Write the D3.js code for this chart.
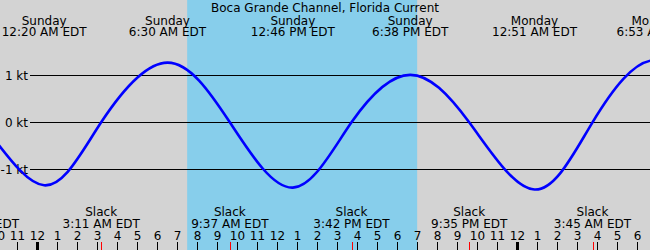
<!DOCTYPE html>
<html>
<head>
<meta charset="utf-8">
<script src="https://cdn.jsdelivr.net/npm/d3@7"></script>
<style>
  body { margin: 0; background: #fff; }
  svg { display: block; font-family: "DejaVu Sans", sans-serif; font-size: 12px; }
</style>
</head>
<body>
<svg id="chart" width="650" height="250"></svg>
<script>
// station
var title = "Boca Grande Channel, Florida Current";

// tide current events (day offset from Sunday, clock time, speed in kt)
var eventDays   = [-1, -1, 0, 0, 0, 0, 0, 0, 0, 0, 1, 1, 1, 1];
var eventTimes  = ["6:15 PM", "9:10 PM", "12:20 AM", "3:11 AM", "6:30 AM", "9:37 AM", "12:46 PM",
                   "3:42 PM", "6:38 PM", "9:35 PM", "12:51 AM", "3:45 AM", "6:53 AM", "9:55 AM"];
var eventSpeeds = [1.1, 0, -1.34, 0, 1.27, 0, -1.39, 0, 1.01, 0, -1.43, 0, 1.32, 0];
var dayNames = ["Saturday", "Sunday", "Monday"];

// sunrise / sunset on Sunday
var sunTimes = ["7:29 AM", "6:59 PM"];

// y gridlines
var speedTicks = [1, 0, -1];

var width = 650,
    height = 250;

function clockToHours(s) {
  var parts = s.split(" "),
      hm = parts[0].split(":"),
      h = +hm[0] % 12 + (+hm[1]) / 60;
  if (parts[1] == "PM") h += 12;
  return h;
}

var events = eventTimes.map(function(t, i) {
  return {
    hour: eventDays[i] * 24 + clockToHours(t),
    time: t,
    day: dayNames[eventDays[i] + 1],
    speed: eventSpeeds[i]
  };
});

var x = d3.scaleLinear()
  .domain([0, 24])
  .range([37.5, 517.5]);

var y = d3.scaleLinear()
  .domain([-1, 1])
  .range([169.3, 75.3]);

// only label events whose text can reach the picture
function visible(d) {
  return x(d.hour) > -45 && x(d.hour) < width + 45;
}

var svg = d3.select("#chart");

// night background
svg.append("rect")
  .attr("width", width)
  .attr("height", height)
  .style("fill", "#d3d3d3");

// daylight
svg.append("rect")
  .attr("x", x(clockToHours(sunTimes[0])))
  .attr("width", x(clockToHours(sunTimes[1])) - x(clockToHours(sunTimes[0])))
  .attr("y", 0)
  .attr("height", height)
  .style("fill", "#87ceeb");

// grid lines
svg.selectAll("line.grid")
  .data(speedTicks)
  .enter().append("line")
    .attr("class", "grid")
    .attr("x1", 30)
    .attr("x2", width)
    .attr("y1", function(d) { return Math.round(y(d)) + 0.5; })
    .attr("y2", function(d) { return Math.round(y(d)) + 0.5; })
    .style("stroke", "#000")
    .style("stroke-width", 1);

svg.selectAll("text.ylabel")
  .data(speedTicks)
  .enter().append("text")
    .attr("class", "ylabel")
    .attr("x", 28)
    .attr("y", function(d) { return y(d) + 4.5; })
    .attr("text-anchor", "end")
    .text(function(d) { return d + " kt"; });

// current curve
var line = d3.line()
  .x(function(d) { return x(d.hour); })
  .y(function(d) { return y(d.speed); })
  .curve(d3.curveNatural);

svg.append("path")
  .datum(events)
  .attr("d", line)
  .style("fill", "none")
  .style("stroke", "#0000ff")
  .style("stroke-width", 2.6);

// title
svg.append("text")
  .attr("x", width / 2)
  .attr("y", 12)
  .attr("text-anchor", "middle")
  .text(title);

// max current labels on top
var maxEvents = events.filter(function(d) { return d.speed != 0 && visible(d); });
var maxLabels = svg.selectAll("g.maxLabel")
  .data(maxEvents)
  .enter().append("g")
    .attr("class", "maxLabel")
    .attr("text-anchor", "middle");

maxLabels.append("text")
  .attr("x", function(d) { return x(d.hour); })
  .attr("y", 25)
  .text(function(d) { return d.day; });

maxLabels.append("text")
  .attr("x", function(d) { return x(d.hour); })
  .attr("y", 36)
  .text(function(d) { return d.time + " EDT"; });

// slack labels on bottom
var slackEvents = events.filter(function(d) { return d.speed == 0; });
var slackLabels = svg.selectAll("g.slackLabel")
  .data(slackEvents.filter(visible))
  .enter().append("g")
    .attr("class", "slackLabel")
    .attr("text-anchor", "middle");

slackLabels.append("text")
  .attr("x", function(d) { return x(d.hour); })
  .attr("y", 216)
  .text("Slack");

slackLabels.append("text")
  .attr("x", function(d) { return x(d.hour); })
  .attr("y", 227.5)
  .text(function(d) { return d.time + " EDT"; });

// hour axis
var hours = d3.range(-2, 32);
svg.selectAll("text.hour")
  .data(hours)
  .enter().append("text")
    .attr("class", "hour")
    .attr("x", function(d) { return x(d); })
    .attr("y", 239.5)
    .attr("text-anchor", "middle")
    .text(function(d) { var h = ((d % 12) + 12) % 12; return h == 0 ? 12 : h; });

svg.selectAll("line.hourTick")
  .data(hours)
  .enter().append("line")
    .attr("class", "hourTick")
    .attr("x1", function(d) { return Math.round(x(d)) - 0.5; })
    .attr("x2", function(d) { return Math.round(x(d)) - 0.5; })
    .attr("y1", 242)
    .attr("y2", height)
    .style("stroke", "#000")
    .style("stroke-width", function(d) { return (d % 24 == 0) ? 3 : 1; });

svg.selectAll("line.slackTick")
  .data(slackEvents)
  .enter().append("line")
    .attr("class", "slackTick")
    .attr("x1", function(d) { return Math.round(x(d.hour)) + 0.5; })
    .attr("x2", function(d) { return Math.round(x(d.hour)) + 0.5; })
    .attr("y1", 242)
    .attr("y2", height)
    .style("stroke", "#ff0000")
    .style("stroke-width", 1);
</script>
</body>
</html>
